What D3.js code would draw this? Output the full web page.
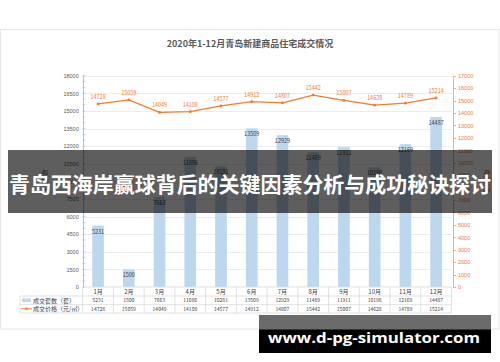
<!DOCTYPE html>
<html lang="zh">
<head>
<meta charset="utf-8">
<script src="https://d3js.org/d3.v7.min.js"></script>
<style type="text/css">
body {
	margin: 0;
	background-color: #fff;
	font-family: "Noto Sans CJK SC", sans-serif;
}
.axis path, .axis line { shape-rendering: crispEdges; }
</style>
</head>
<body>
<div class="chart"></div>
<script type="text/javascript">
// chart data
var months = ["1月","2月","3月","4月","5月","6月","7月","8月","9月","10月","11月","12月"];
var counts = [5231, 1500, 7663, 11086, 10281, 13509, 12929, 11489, 11911, 10198, 12169, 14487];
var prices = [14728, 15059, 14049, 14108, 14577, 14912, 14807, 15442, 15007, 14628, 14789, 15214];
var countTicks = [0, 1500, 3000, 4500, 6000, 7500, 9000, 10500, 12000, 13500, 15000, 16500, 18000];
var priceTicks = [0, 1000, 2000, 3000, 4000, 5000, 6000, 7000, 8000, 9000, 10000, 11000, 12000, 13000, 14000, 15000, 16000, 17000];
var title = "2020年1-12月青岛新建商品住宅成交情况";
var countName = "成交套数（套）";
var priceName = "成交价格（元/㎡）";
var bannerText = "青岛西海岸赢球背后的关键因素分析与成功秘诀探讨";
var siteText = "www.d-pg-simulator.com";

var width = 500, height = 362;
var blue = "#bdd7ee", orange = "#ed7d31";
// plot box (note: "top" is reserved on window)
var pL = 82.7, pR = 451.5, pT = 75.7, pB = 287;

var svg = d3.select(".chart").append("svg")
	.attr("width", width)
	.attr("height", height)
	.style("display", "block");

// card
svg.append("rect")
	.attr("x", 0.5).attr("y", 29.5)
	.attr("width", 498.5).attr("height", 299.5)
	.style("fill", "#fff").style("stroke", "#e6e6e6");

svg.append("text")
	.attr("x", 250).attr("y", 47)
	.attr("text-anchor", "middle")
	.style("font-size", "9px").style("font-weight", "bold")
	.style("fill", "#595959")
	.text(title);

var x = d3.scaleBand().domain(months).range([pL, pR]).paddingInner(0.62).paddingOuter(0.31);
var xCol = d3.scaleBand().domain(months).range([pL, pR]);
var yL = d3.scaleLinear().domain([0, 18000]).range([pB, pT]);
var yR = d3.scaleLinear().domain([0, 17000]).range([pB, pT]);

// gridlines
svg.append("g").selectAll("line")
	.data(countTicks.slice(1))
	.enter().append("line")
	.attr("x1", pL).attr("x2", pR)
	.attr("y1", function(d) { return Math.round(yL(d)) + 0.5; })
	.attr("y2", function(d) { return Math.round(yL(d)) + 0.5; })
	.style("stroke", "#ececec");

// bars
svg.append("g").selectAll("rect")
	.data(counts)
	.enter().append("rect")
	.attr("x", function(d, i) { return x(months[i]); })
	.attr("width", x.bandwidth())
	.attr("y", function(d) { return yL(d); })
	.attr("height", function(d) { return pB - yL(d); })
	.style("fill", blue);

svg.append("g").selectAll("text")
	.data(counts)
	.enter().append("text")
	.attr("x", function(d, i) { return x(months[i]) + x.bandwidth() / 2; })
	.attr("y", function(d) { return yL(d) + 8; })
	.attr("text-anchor", "middle")
	.style("font-size", "5.5px")
	.style("fill", "#404040")
	.text(function(d) { return d; });

// left axis
var axL = svg.append("g")
	.attr("class", "axis")
	.attr("transform", "translate(" + pL + ",0)")
	.call(d3.axisLeft(yL).tickValues(countTicks).tickFormat(d3.format("d")).tickSize(0).tickPadding(4));
axL.select(".domain").style("stroke", "#9dc3e6");
axL.selectAll("text").style("font-size", "5.5px").style("fill", "#595959").style("font-family", "inherit");
svg.append("g").selectAll("line")
	.data(d3.range(0, 18001, 500))
	.enter().append("line")
	.attr("x1", pL).attr("x2", pL + 2.5)
	.attr("y1", function(d) { return yL(d); })
	.attr("y2", function(d) { return yL(d); })
	.style("stroke", "#9dc3e6").style("stroke-width", 0.8);

// right axis
var axR = svg.append("g")
	.attr("class", "axis")
	.attr("transform", "translate(" + (pR + 1.5) + ",0)")
	.call(d3.axisRight(yR).tickValues(priceTicks).tickFormat(d3.format("d")).tickSize(3).tickPadding(2));
axR.select(".domain").style("stroke", "#f4b183");
axR.selectAll("line").style("stroke", "#f4b183");
axR.selectAll("text").style("font-size", "5.5px").style("fill", orange).style("font-family", "inherit");

// axis titles
svg.append("text")
	.attr("transform", "translate(47," + ((pT + pB) / 2) + ") rotate(-90)")
	.attr("text-anchor", "middle")
	.style("font-size", "6px").style("fill", "#595959")
	.text("成交套数");
svg.append("text")
	.attr("transform", "translate(485," + ((pT + pB) / 2) + ") rotate(90)")
	.attr("text-anchor", "middle")
	.style("font-size", "6px").style("fill", "#c55a11")
	.text("成交价格");

// price line
var line = d3.line()
	.x(function(d, i) { return x(months[i]) + x.bandwidth() / 2; })
	.y(function(d) { return yR(d); });

svg.append("path")
	.datum(prices)
	.attr("d", line)
	.style("fill", "none")
	.style("stroke", orange)
	.style("stroke-width", 1.3);

svg.append("g").selectAll("circle")
	.data(prices)
	.enter().append("circle")
	.attr("cx", function(d, i) { return x(months[i]) + x.bandwidth() / 2; })
	.attr("cy", function(d) { return yR(d); })
	.attr("r", 1.4)
	.style("fill", orange);

svg.append("g").selectAll("text")
	.data(prices)
	.enter().append("text")
	.attr("x", function(d, i) { return x(months[i]) + x.bandwidth() / 2; })
	.attr("y", function(d) { return yR(d) - 5; })
	.attr("text-anchor", "middle")
	.style("font-size", "5.5px")
	.style("fill", orange)
	.text(function(d) { return d; });

// data table
var rows = [287, 296, 304.7, 313];
var table = svg.append("g").style("stroke", "#d9d9d9").style("stroke-width", 0.8);
rows.forEach(function(r, i) {
	table.append("line")
		.attr("x1", i == 0 ? pL : 20).attr("x2", pR)
		.attr("y1", r).attr("y2", r);
});
table.append("line").attr("x1", 20).attr("x2", 20).attr("y1", rows[1]).attr("y2", rows[3]);
table.selectAll(".col")
	.data(months.concat(["end"]))
	.enter().append("line")
	.attr("x1", function(d, i) { return pL + i * xCol.bandwidth(); })
	.attr("x2", function(d, i) { return pL + i * xCol.bandwidth(); })
	.attr("y1", rows[0]).attr("y2", rows[3]);

var cells = [months, counts, prices];
cells.forEach(function(arr, r) {
	svg.append("g").selectAll("text")
		.data(arr)
		.enter().append("text")
		.attr("x", function(d, i) { return xCol(months[i]) + xCol.bandwidth() / 2; })
		.attr("y", (rows[r] + rows[r + 1]) / 2 + 2)
		.attr("text-anchor", "middle")
		.style("font-size", r == 0 ? "6px" : "5px")
		.style("fill", "#404040")
		.text(function(d) { return d; });
});

// legend in table
svg.append("rect")
	.attr("x", 22).attr("y", 298.5).attr("width", 9).attr("height", 3.5)
	.style("fill", blue);
svg.append("line")
	.attr("x1", 21).attr("x2", 32).attr("y1", 308.8).attr("y2", 308.8)
	.style("stroke", orange).style("stroke-width", 1);
svg.append("circle")
	.attr("cx", 26.5).attr("cy", 308.8).attr("r", 1.3).style("fill", orange);
svg.append("text")
	.attr("x", 33).attr("y", 302.6)
	.style("font-size", "6px").style("fill", "#404040")
	.text(countName);
svg.append("text")
	.attr("x", 33).attr("y", 311.2)
	.style("font-size", "6px").style("fill", "#404040")
	.text(priceName);

// banner overlay
svg.append("rect")
	.attr("x", 8).attr("y", 150)
	.attr("width", 484).attr("height", 63)
	.style("fill", "rgba(0,0,0,0.63)");
svg.append("text")
	.attr("x", 250).attr("y", 183)
	.attr("text-anchor", "middle")
	.attr("dominant-baseline", "central")
	.attr("textLength", 482)
	.attr("lengthAdjust", "spacingAndGlyphs")
	.style("font-size", "21px").style("font-weight", "bold")
	.style("fill", "#fff")
	.text(bannerText);

// site watermark
svg.append("rect")
	.attr("x", 259).attr("y", 315).attr("width", 232).attr("height", 15)
	.style("fill", "#6b6b6b");
svg.append("rect")
	.attr("x", 259).attr("y", 329.5).attr("width", 232).attr("height", 23.5)
	.style("fill", "#000");
svg.append("text")
	.attr("x", 268).attr("y", 342.7)
	.attr("textLength", 212)
	.attr("lengthAdjust", "spacingAndGlyphs")
	.style("font-family", "'Open Sans', sans-serif")
	.style("font-size", "15px").style("font-weight", "bold")
	.style("fill", "#fff")
	.text(siteText);
</script>
</body>
</html>
